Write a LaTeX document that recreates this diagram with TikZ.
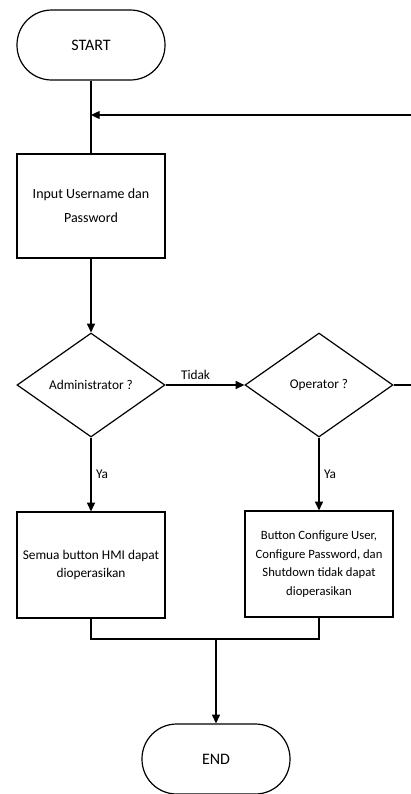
\documentclass[tikz,border=0pt]{standalone}
\usepackage{fontspec}
\setmainfont{Carlito}
\usetikzlibrary{shapes.geometric,arrows.meta}

\tikzset{
  terminal/.style={draw,line width=0.9pt,rounded corners=26pt,minimum width=111pt,minimum height=52.5pt,font=\fontsize{12}{14}\selectfont},
  proses/.style={draw,line width=0.9pt,minimum width=111pt,minimum height=78pt,align=center,font=\fontsize{10}{14}\selectfont},
  keputusan/.style={draw,diamond,line width=0.9pt,inner sep=0pt,minimum width=111pt,minimum height=78pt,font=\fontsize{10}{12}\selectfont},
  panah/.style={line width=0.9pt,-{Triangle[length=6.5pt,width=6pt]}},
  garis/.style={line width=0.9pt}
}

\begin{document}
\begin{tikzpicture}[x=0.75pt,y=-0.75pt]
\useasboundingbox (0,0) rectangle (411,794);
\node[terminal] (start) at (91,45) {START};
\node[proses,font=\fontsize{10.5}{18}\selectfont] (input) at (91,206) {Input Username dan\\Password};
\node[keputusan] (admin) at (91,385) {Administrator ?};
\node[keputusan] (oper) at (319,385) {Operator ?};
\node[proses,minimum height=79.5pt] (semua) at (91,565) {Semua button HMI dapat\\dioperasikan};
\node[proses,minimum height=79.5pt,font=\fontsize{9.5}{14}\selectfont] (button) at (319,564) {Button Configure User,\\Configure Password, dan\\Shutdown tidak dapat\\dioperasikan};
\node[terminal] (end) at (216,759) {END};
\coordinate (balik) at (411,115);
\coordinate (keluar) at (411,385);
\coordinate (gabung) at (216,639);
\draw[garis] (start) -- (input);
\draw[panah] (balik) -- (balik -| start);
\draw[panah] (input) -- (admin);
\draw[panah] (admin) -- node[above,pos=0.38]{Tidak} (oper);
\draw[garis] (oper) -- (keluar);
\draw[panah] (admin) -- node[right,midway]{Ya} (semua);
\draw[panah] (oper) -- node[right,midway]{Ya} (button);
\draw[garis] (semua) |- (gabung) -| (button);
\draw[panah] (gabung) -- (end);
\end{tikzpicture}
\end{document}
